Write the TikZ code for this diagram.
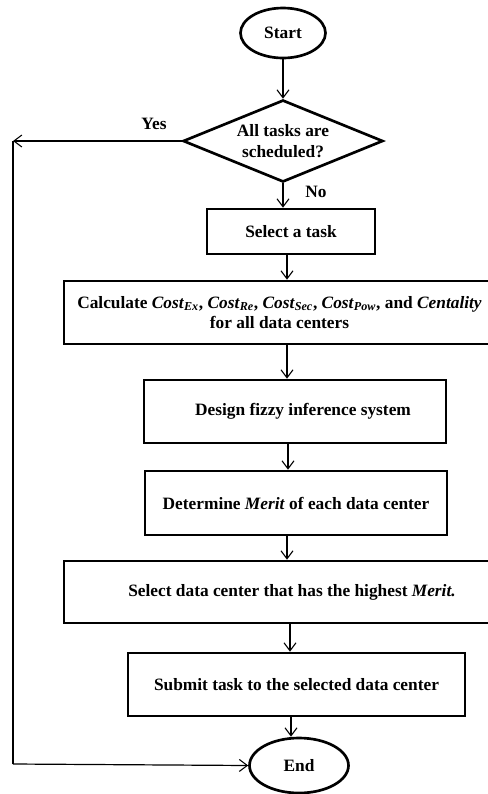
\documentclass[tikz,border=0pt]{standalone}
\usepackage{fontspec}
\setmainfont{Liberation Serif}
\usetikzlibrary{shapes.geometric,arrows.meta}

\newcommand{\cst}[1]{\textit{Cost}\textsubscript{\textit{#1}}}

\tikzset{
  every node/.style={font=\bfseries\fontsize{13}{15.5}\selectfont},
  terminal/.style={ellipse, draw, line width=2pt, inner sep=0pt},
  decision/.style={diamond, draw, line width=2pt, inner sep=0pt, aspect=2.44, align=center},
  process/.style={rectangle, draw, line width=2pt, inner sep=0pt, align=center},
  flow/.style={line width=0.9pt, -{Straight Barb[length=6pt,width=9pt,line width=0.8pt]}},
  plain/.style={line width=0.9pt},
  tag/.style={inner sep=0pt}
}

\begin{document}
\begin{tikzpicture}[x=0.75pt, y=-0.75pt]
  \useasboundingbox (0,0) rectangle (488,794);
  \clip (0,0) rectangle (488,794);

  % flowchart steps
  \node[terminal, minimum width=63.75pt, minimum height=37.5pt] (start) at (283,33) {Start};
  \node[decision, minimum width=150pt, minimum height=61.5pt] (dec) at (283,141) {All tasks are\\scheduled?};
  \node[process, minimum width=126pt, minimum height=33.75pt] (sel) at (291,231.5) {Select a task};
  \node[process, minimum width=323.25pt, minimum height=47.25pt] (calc) at (279.5,312.5)
    {Calculate \cst{Ex}, \cst{Re}, \cst{Sec}, \cst{Pow}, and \textit{Centality}\\for all data centers};
  \node[process, minimum width=226.5pt, minimum height=47.25pt] (design) at (295,411.5)
    {\hspace*{12pt}Design fizzy inference system};
  \node[process, minimum width=226.5pt, minimum height=48pt] (merit) at (296,503)
    {Determine \textit{Merit} of each data center};
  \node[process, minimum width=342pt, minimum height=46.5pt] (best) at (292,592)
    {Select data center that has the highest \textit{Merit.}};
  \node[process, minimum width=252.75pt, minimum height=47.25pt] (submit) at (296.5,684.5)
    {Submit task to the selected data center};
  \node[terminal, minimum width=74.25pt, minimum height=41.25pt] (end) at (299,765.5) {End};

  % branch labels
  \node[tag] (yes) at (154,124) {Yes};
  \node[tag] (no) at (316,192) {No};

  % columns of the vertical connectors
  \coordinate (colA) at (287,0);
  \coordinate (colB) at (288,0);
  \coordinate (colC) at (290,0);
  \coordinate (colD) at (291,0);
  % corners of the "Yes" return path
  \coordinate (ytop) at (13,141);
  \coordinate (ybot) at (13,764);

  % connectors
  \draw[flow] (start.south) -- (dec.north);
  \draw[flow] (dec.south) -- (dec.south |- sel.north);
  \draw[flow] (sel.south -| colA) -- (calc.north -| colA);
  \draw[flow] (calc.south -| colA) -- (design.north -| colA);
  \draw[flow] (design.south -| colB) -- (merit.north -| colB);
  \draw[flow] (merit.south -| colA) -- (best.north -| colA);
  \draw[flow] (best.south -| colC) -- (submit.north -| colC);
  \draw[flow] (submit.south -| colD) -- (end.north -| colD);

  \draw[flow] (dec.west) -- (ytop);
  \draw[plain] (ytop) -- (ybot);
  \draw[flow] (ybot) -- (end.west);
\end{tikzpicture}
\end{document}
